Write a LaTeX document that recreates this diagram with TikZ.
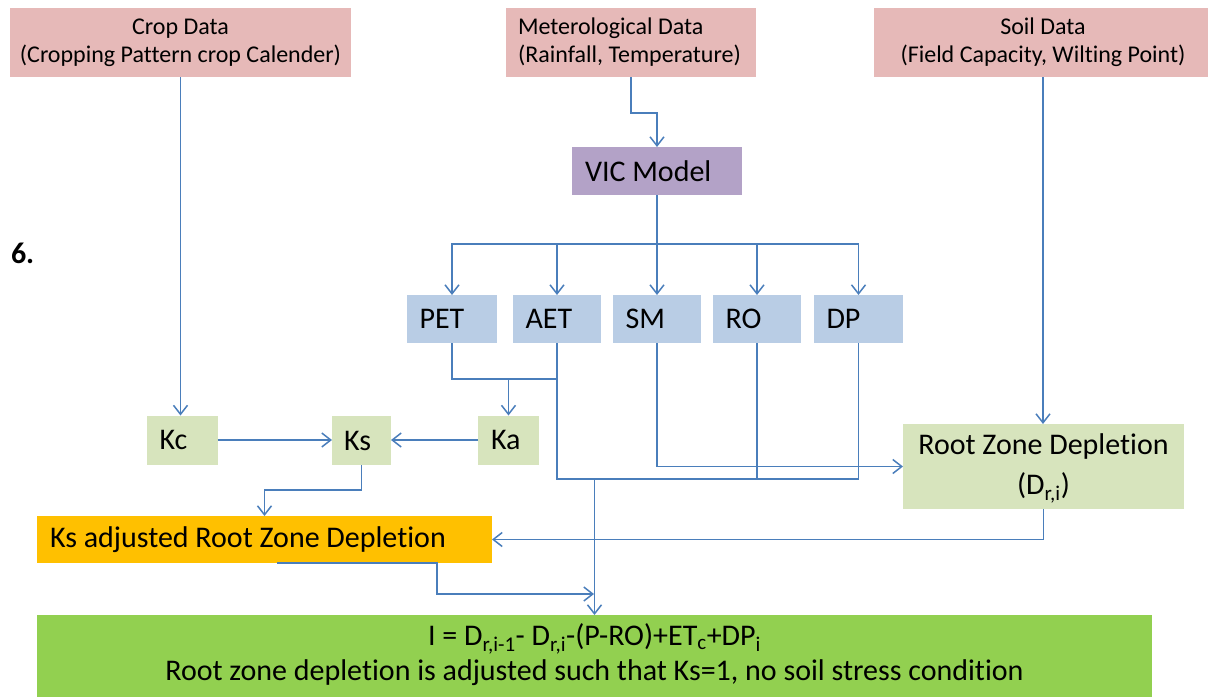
\documentclass[tikz,border=0pt]{standalone}
\usepackage{fontspec}
\setmainfont{Carlito}[Ligatures={CommonOff,ContextualOff,RareOff},Contextuals=AlternateOff]
\usetikzlibrary{arrows.meta}
\definecolor{pinkc}{HTML}{E6B9B8}
\definecolor{purplec}{HTML}{B3A2C7}
\definecolor{bluec}{HTML}{B9CDE5}
\definecolor{lgreenc}{HTML}{D7E4BD}
\definecolor{orangec}{HTML}{FFC000}
\definecolor{greenc}{HTML}{92D050}
\definecolor{linec}{HTML}{4A7EBB}
\newcommand\mylbox[2]{\makebox[#1][l]{#2}}
\begin{document}
\begin{tikzpicture}[x=1pt,y=-1pt,
  base/.style={inner sep=0pt, outer sep=0pt, anchor=center, text=black},
  topbox/.style={base, fill=pinkc, minimum height=69pt, font=\fontsize{24}{28}\selectfont, align=center},
  leftbox/.style={base, minimum height=48pt, font=\fontsize{30}{36}\selectfont, inner xsep=12.5pt},
  varbox/.style={leftbox, fill=bluec},
  kbox/.style={leftbox, fill=lgreenc, minimum height=49pt},
  line/.style={draw=linec, line width=1.5pt},
  arr/.style={line, -{Straight Barb[length=9pt,width=14pt,line width=1.5pt]}}
]
\useasboundingbox (0,0) rectangle (1208,697);

% top data boxes
\node[topbox, minimum width=341pt] (crop) at (180.5,42.5) {Crop Data\\(Cropping Pattern crop Calender)};
\node[topbox, inner xsep=12pt] (met) at (631,42.5) {\mylbox{226pt}{\begin{tabular}{@{}l@{}}Meterological Data\\(Rainfall, Temperature)\end{tabular}}};
\node[topbox, minimum width=338pt] (soil) at (1043,42.5) {Soil Data\\(Field Capacity, Wilting Point)};

\node[base, anchor=base west, font=\fontsize{30}{36}\selectfont\bfseries] (six) at (11,263) {6.};

% VIC
\node[leftbox, fill=purplec, inner xsep=13pt] (vic) at (657,171) {\mylbox{144pt}{VIC Model}};

% VIC outputs
\node[varbox] (pet) at (452,319) {\mylbox{65pt}{PET}};
\node[varbox] (aet) at (557,319) {\mylbox{63pt}{AET}};
\node[varbox] (sm) at (657,319) {\mylbox{63pt}{SM}};
\node[varbox] (ro) at (757,319) {\mylbox{63pt}{RO}};
\node[varbox] (dp) at (858.5,319) {\mylbox{64pt}{DP}};

% coefficients
\node[kbox, inner xsep=13pt] (kc) at (182,440) {\mylbox{45pt}{Kc}};
\node[kbox, inner xsep=12pt] (ks) at (361.5,440.5) {\mylbox{35pt}{Ks}};
\node[kbox, inner xsep=13pt] (ka) at (508.5,440) {\mylbox{35pt}{Ka}};

% root zone
\node[base, fill=lgreenc, minimum width=281pt, minimum height=85pt, font=\fontsize{30}{40}\selectfont, align=center] (root) at (1043.5,466.5) {\raisebox{-5pt}{\begin{tabular}{@{}c@{}}Root Zone Depletion\\(D\textsubscript{r,i})\end{tabular}}};

% Ks adjusted
\node[leftbox, fill=orangec, inner xsep=13pt, minimum height=47pt] (orange) at (264.5,539.5) {\mylbox{429pt}{Ks adjusted Root Zone Depletion}};

% final equation
\node[base, fill=greenc, minimum width=1115pt, minimum height=82pt, font=\fontsize{30}{35}\selectfont, align=center] (green) at (594.5,656) {\raisebox{-3pt}{\begin{tabular}{@{}c@{}}I = D\textsubscript{r,i-1}- D\textsubscript{r,i}-(P-RO)+ET\textsubscript{c}+DP\textsubscript{i}\\Root zone depletion is adjusted such that Ks=1, no soil stress condition\end{tabular}}};

% junction coordinates
\coordinate (b1) at (657,244);
\coordinate (j1) at (557,379);
\coordinate (j2) at (858.5,479);
\coordinate (j3) at (594,594);

% connectors
\draw[arr] (crop.south) -- (crop.south |- kc.north);
\draw[arr] (met.south) -- ++(0,36) -| (vic.north);
\draw[arr] (soil.south) -- (soil.south |- root.north);

\draw[line] (vic.south) -- (b1);
\draw[arr] (b1) -| (pet.north);
\draw[arr] (b1) -| (aet.north);
\draw[arr] (b1) -- (sm.north);
\draw[arr] (b1) -| (ro.north);
\draw[arr] (b1) -| (dp.north);

\draw[line] (pet.south) |- (j1);
\draw[arr] (ka.north |- j1) -- (ka.north);
\draw[line] (aet.south) |- (j2) -- (dp.south);
\draw[line] (ro.south) -- (ro.south |- j2);
\draw[arr] (sm.south) |- (root.west);
\draw[arr] (green.north |- j2) -- (green.north);

\draw[arr] (kc.east) -- (kc.east -| ks.west);
\draw[arr] (ka.west) -- (ka.west -| ks.east);
\draw[arr] (ks.south) -- ++(0,25) -| (orange.north);
\draw[arr] (root.south) |- (orange.east);
\draw[arr] ([xshift=12.5pt]orange.south) -- ++(160,0) |- (j3);
\end{tikzpicture}
\end{document}
